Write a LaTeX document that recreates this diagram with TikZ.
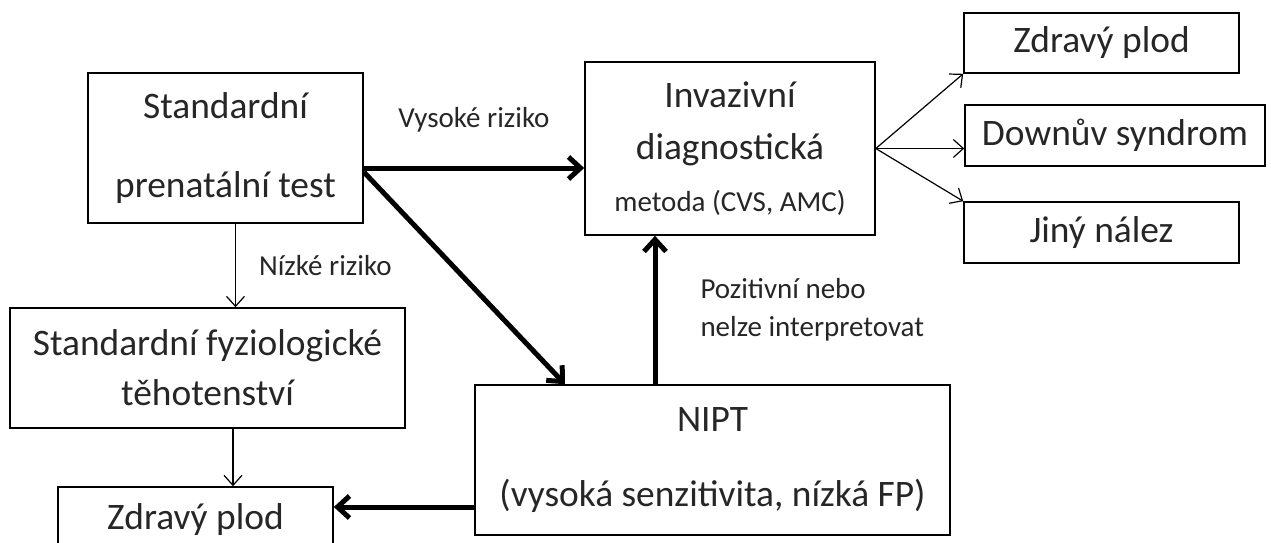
\documentclass[tikz,border=0pt]{standalone}
\usepackage{fontspec}
\setmainfont{Carlito}
\usetikzlibrary{calc,arrows.meta}

\begin{document}
\begin{tikzpicture}[x=0.5pt,y=-0.5pt,black]
			\tikzset{caja/.style={draw=black, rectangle, line width=0.8pt, inner sep=0pt, align=center, text=black!85, font=\fontsize{18.7}{25}\selectfont},
				flecha/.style={line width=0.6pt,-{Straight Barb[length=5pt,width=9pt]}},
				flechagruesa/.style={line width=2.5pt,-{Straight Barb[length=6pt,width=11pt]}},
				rotulo/.style={font=\fontsize{14.5}{19}\selectfont, text=black!85, inner sep=0pt, align=left}}
			\useasboundingbox (0,0) rectangle (1271,542);
			\node[caja,minimum width=137.5pt,minimum height=75pt,font=\fontsize{18.7}{39.5}\selectfont] at (225.5,148) (std){Standardní\\prenatální test};
			\node[caja,minimum width=145pt,minimum height=86.5pt,font=\fontsize{18.7}{26}\selectfont] at (730,148.5) (inv){Invazivní\\diagnostická\\{\fontsize{14.5}{26}\selectfont metoda (CVS, AMC)}};
			\node[caja,minimum width=137.5pt,minimum height=30pt] at (1101.5,43) (zdr1){Zdravý plod};
			\node[caja,minimum width=150pt,minimum height=30.5pt] at (1115,135.5) (down){Downův syndrom};
			\node[caja,minimum width=137.5pt,minimum height=30.5pt] at (1101.5,232.5) (jiny){Jiný nález};
			\node[caja,minimum width=197.5pt,minimum height=60pt] at (207.5,368) (fyz){Standardní fyziologické\\těhotenství};
			\node[caja,minimum width=137.5pt,minimum height=33pt] at (195.5,520) (zdr2){Zdravý plod};
			\node[caja,minimum width=237.5pt,minimum height=75pt,font=\fontsize{18.7}{37.5}\selectfont] at (712.5,460) (nipt){NIPT\\(vysoká senzitivita, nízká FP)};
			% nizke riziko
			\draw[flecha] ([xshift=5pt]std.south) -- ([xshift=5pt]std.south |- fyz.north) node[midway,anchor=west,xshift=11.5pt,rotulo](){Nízké riziko};
			\draw[flecha] ([xshift=12.75pt]fyz.south) -- ([xshift=12.75pt]fyz.south |- zdr2.north);
			% vysoke riziko
			\draw[flechagruesa] ([yshift=-10pt]std.east) -- ([yshift=-10pt]std.east -| inv.west) node[midway,yshift=24pt,rotulo](){Vysoké riziko};
			\draw[flechagruesa] ([yshift=-12pt]std.east) -- ([xshift=-73.75pt]nipt.north);
			\draw[flechagruesa] ([xshift=-37.5pt]inv.south |- nipt.north) -- ([xshift=-37.5pt]inv.south) node[midway,anchor=west,xshift=21.5pt,rotulo](){Pozitivní nebo\\nelze interpretovat};
			\draw[flechagruesa] ([yshift=-23.5pt]nipt.west) -- ([yshift=-23.5pt]nipt.west -| zdr2.east);
			% vysledky
			\draw[flecha] (inv.east) -- (zdr1.south west);
			\draw[flecha] (inv.east) -- (inv.east -| down.west);
			\draw[flecha] (inv.east) -- (jiny.north west);
	\end{tikzpicture}
\end{document}
